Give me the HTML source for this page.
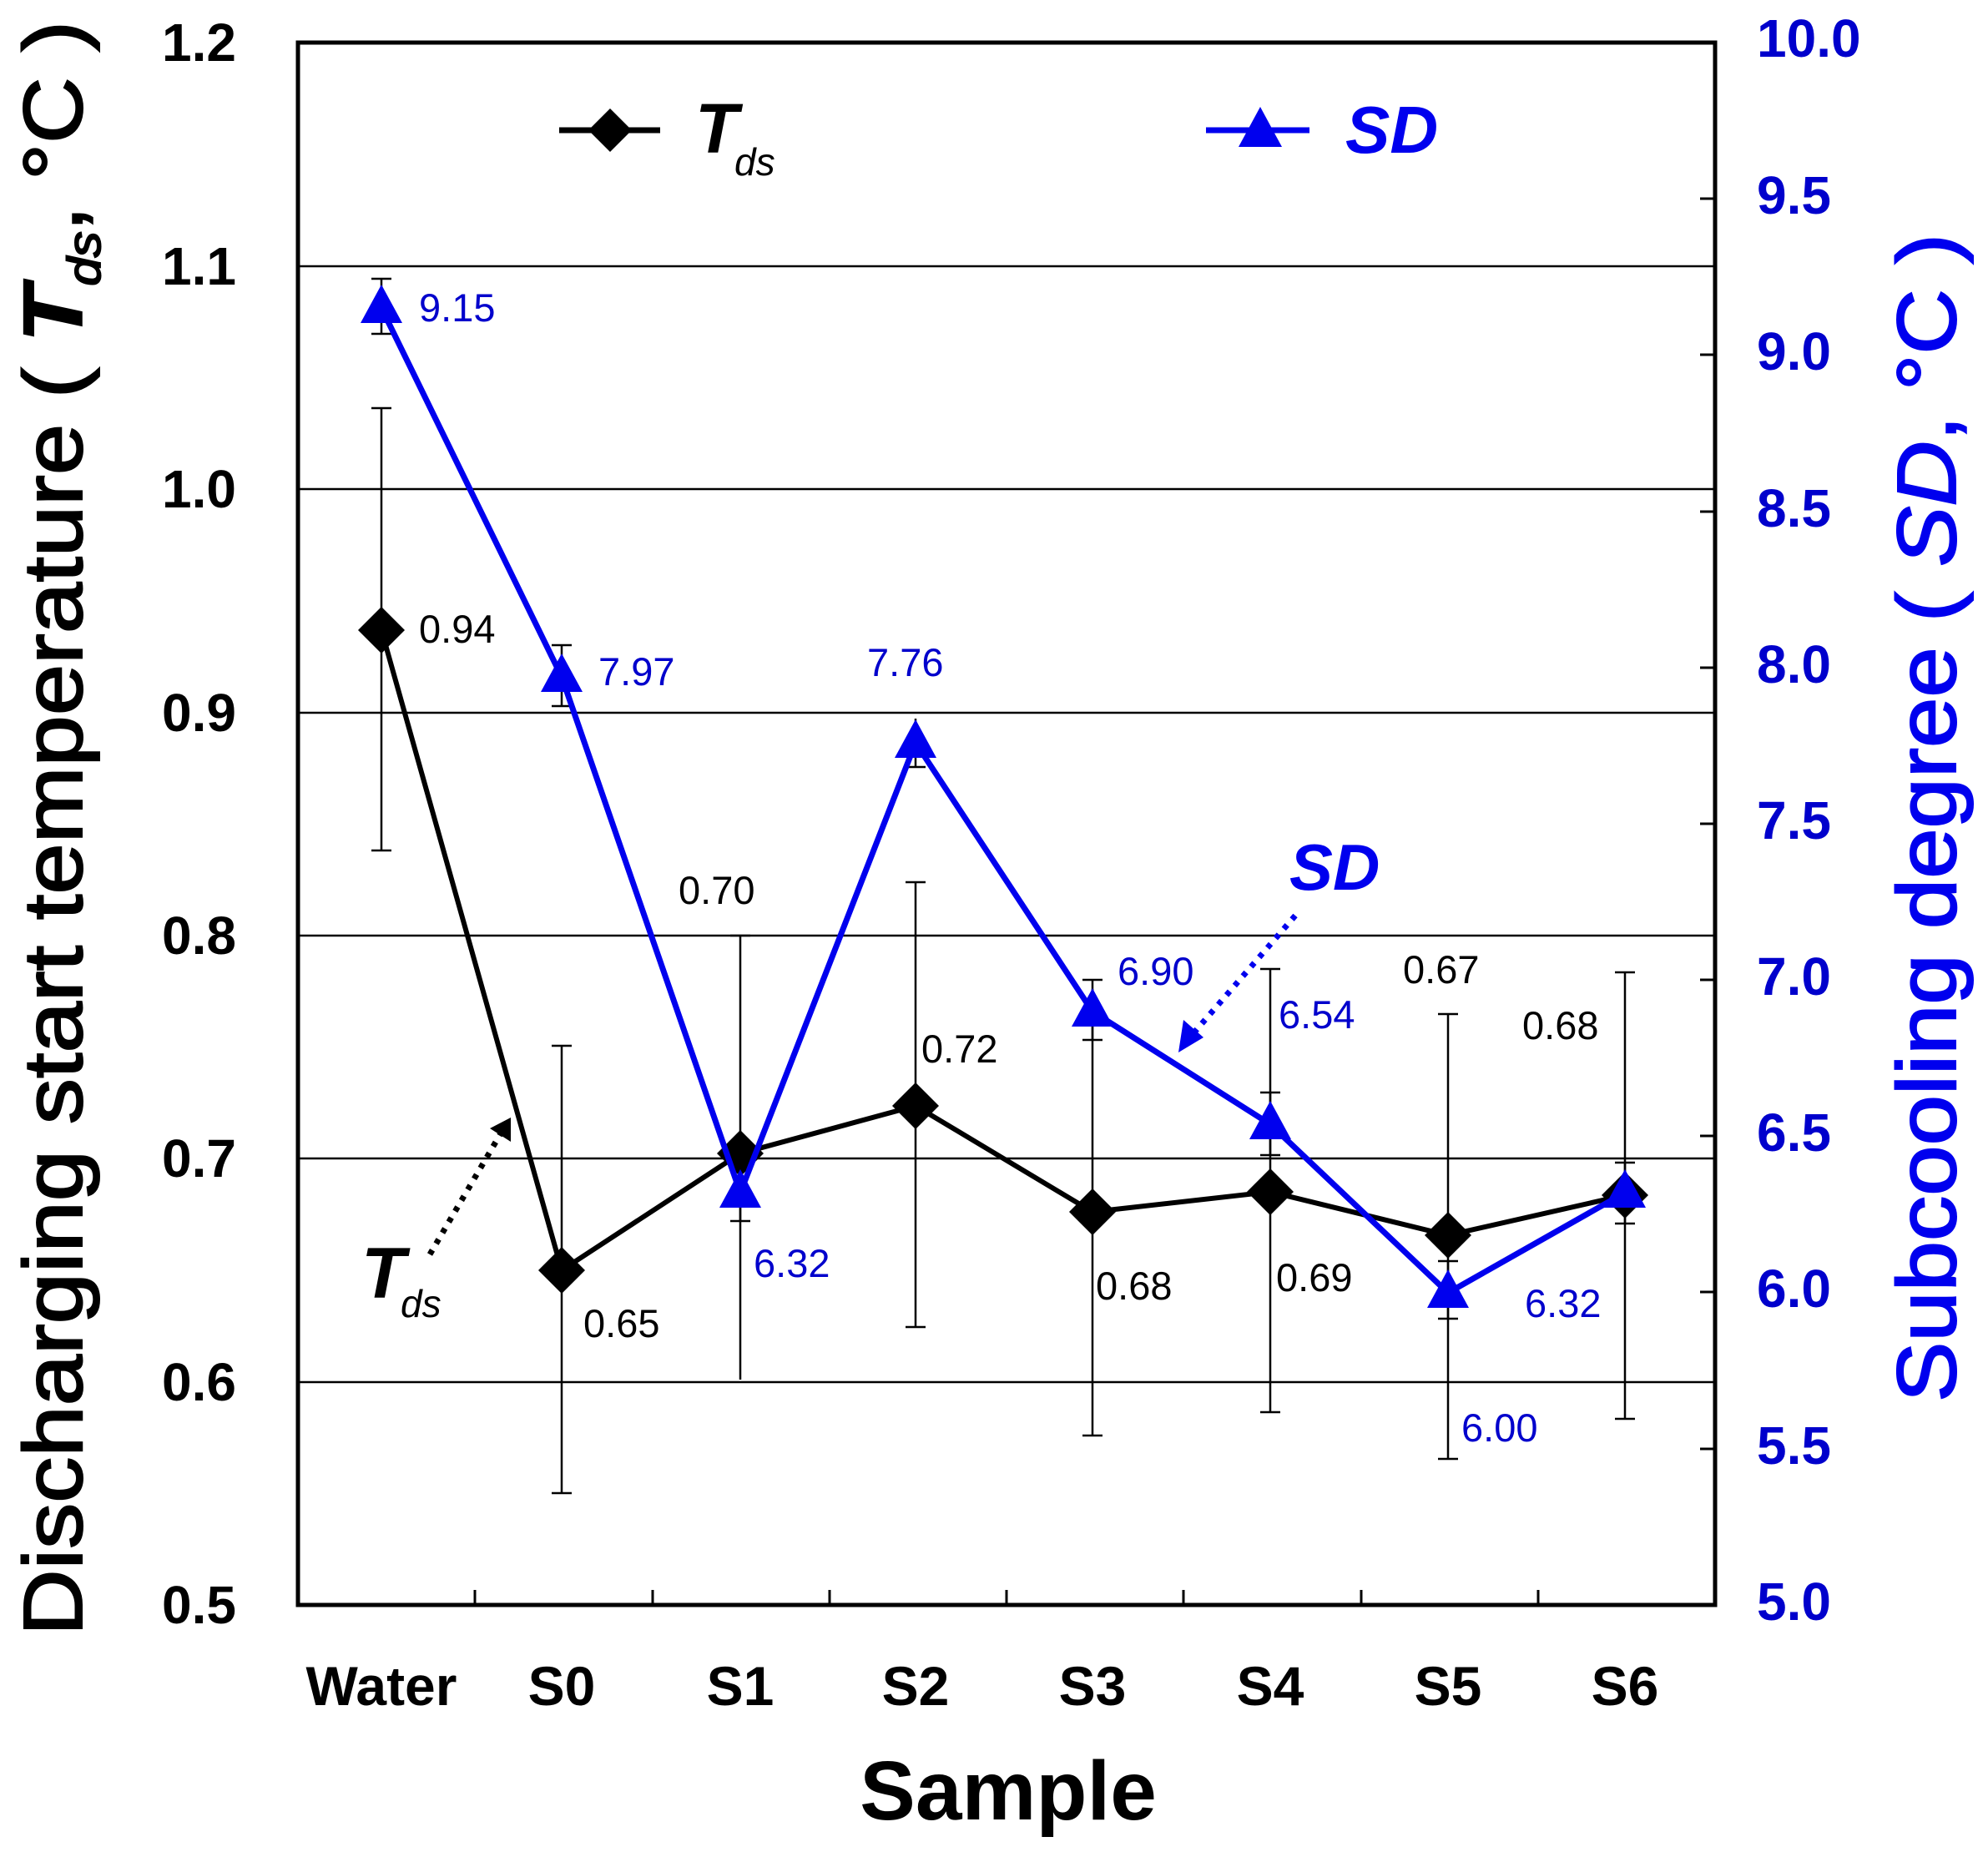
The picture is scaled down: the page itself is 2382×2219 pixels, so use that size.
<!DOCTYPE html>
<html><head><meta charset="utf-8"><style>html,body{margin:0;padding:0;background:#fff}svg{display:block}</style></head>
<body>
<svg width="2382" height="2219" viewBox="0 0 2382 2219" xmlns="http://www.w3.org/2000/svg" font-family="'Liberation Sans', Arial, sans-serif">
<rect width="2382" height="2219" fill="#fff"/>
<g stroke="#000" stroke-width="2.5">
<line x1="357" y1="319" x2="2055" y2="319"/>
<line x1="357" y1="586" x2="2055" y2="586"/>
<line x1="357" y1="854" x2="2055" y2="854"/>
<line x1="357" y1="1121" x2="2055" y2="1121"/>
<line x1="357" y1="1388" x2="2055" y2="1388"/>
<line x1="357" y1="1656" x2="2055" y2="1656"/>
</g>
<g stroke="#000" stroke-width="3">
<line x1="569" y1="1923" x2="569" y2="1905"/>
<line x1="782" y1="1923" x2="782" y2="1905"/>
<line x1="994" y1="1923" x2="994" y2="1905"/>
<line x1="1206" y1="1923" x2="1206" y2="1905"/>
<line x1="1418" y1="1923" x2="1418" y2="1905"/>
<line x1="1631" y1="1923" x2="1631" y2="1905"/>
<line x1="1843" y1="1923" x2="1843" y2="1905"/>
</g>
<g stroke="#000" stroke-width="3">
<line x1="2055" y1="238" x2="2037" y2="238"/>
<line x1="2055" y1="425" x2="2037" y2="425"/>
<line x1="2055" y1="613" x2="2037" y2="613"/>
<line x1="2055" y1="800" x2="2037" y2="800"/>
<line x1="2055" y1="987" x2="2037" y2="987"/>
<line x1="2055" y1="1174" x2="2037" y2="1174"/>
<line x1="2055" y1="1361" x2="2037" y2="1361"/>
<line x1="2055" y1="1548" x2="2037" y2="1548"/>
<line x1="2055" y1="1736" x2="2037" y2="1736"/>
</g>
<rect x="357" y="51" width="1698" height="1872" fill="none" stroke="#000" stroke-width="5"/>

<g stroke="#000" stroke-width="2.5">
<line x1="457" y1="489" x2="457" y2="1019"/><line x1="445" y1="489" x2="469" y2="489"/><line x1="445" y1="1019" x2="469" y2="1019"/>
<line x1="673" y1="1253" x2="673" y2="1789"/><line x1="661" y1="1253" x2="685" y2="1253"/><line x1="661" y1="1789" x2="685" y2="1789"/>
<line x1="887" y1="1121" x2="887" y2="1653"/><line x1="875" y1="1121" x2="899" y2="1121"/>
<line x1="1097" y1="1057" x2="1097" y2="1590"/><line x1="1085" y1="1057" x2="1109" y2="1057"/><line x1="1085" y1="1590" x2="1109" y2="1590"/>
<line x1="1309" y1="1185" x2="1309" y2="1720"/><line x1="1297" y1="1720" x2="1321" y2="1720"/>
<line x1="1522" y1="1161" x2="1522" y2="1692"/><line x1="1510" y1="1161" x2="1534" y2="1161"/><line x1="1510" y1="1692" x2="1534" y2="1692"/>
<line x1="1735" y1="1215" x2="1735" y2="1748"/><line x1="1723" y1="1215" x2="1747" y2="1215"/><line x1="1723" y1="1748" x2="1747" y2="1748"/>
<line x1="1947" y1="1165" x2="1947" y2="1700"/><line x1="1935" y1="1165" x2="1959" y2="1165"/><line x1="1935" y1="1700" x2="1959" y2="1700"/>
</g>
<g stroke="#000" stroke-width="2.5">
<line x1="457" y1="334" x2="457" y2="400"/><line x1="445" y1="334" x2="469" y2="334"/><line x1="445" y1="400" x2="469" y2="400"/>
<line x1="673" y1="773" x2="673" y2="846"/><line x1="661" y1="773" x2="685" y2="773"/><line x1="661" y1="846" x2="685" y2="846"/>
<line x1="887" y1="1410" x2="887" y2="1463"/><line x1="875" y1="1463" x2="899" y2="1463"/>
<line x1="1097" y1="861" x2="1097" y2="919"/><line x1="1085" y1="919" x2="1109" y2="919"/>
<line x1="1309" y1="1174" x2="1309" y2="1246"/><line x1="1297" y1="1174" x2="1321" y2="1174"/><line x1="1297" y1="1246" x2="1321" y2="1246"/>
<line x1="1522" y1="1309" x2="1522" y2="1384"/><line x1="1510" y1="1309" x2="1534" y2="1309"/><line x1="1510" y1="1384" x2="1534" y2="1384"/>
<line x1="1735" y1="1511" x2="1735" y2="1580"/><line x1="1723" y1="1511" x2="1747" y2="1511"/><line x1="1723" y1="1580" x2="1747" y2="1580"/>
<line x1="1947" y1="1393" x2="1947" y2="1466"/><line x1="1935" y1="1393" x2="1959" y2="1393"/><line x1="1935" y1="1466" x2="1959" y2="1466"/>
</g>

<polyline fill="none" stroke="#000" stroke-width="6" points="457,755 673,1522 887,1382 1097,1325 1309,1452 1522,1428 1735,1480 1947,1432"/>
<g fill="#000">
<polygon points="457,727 485,755 457,783 429,755"/>
<polygon points="673,1494 701,1522 673,1550 645,1522"/>
<polygon points="887,1354 915,1382 887,1410 859,1382"/>
<polygon points="1097,1297 1125,1325 1097,1353 1069,1325"/>
<polygon points="1309,1424 1337,1452 1309,1480 1281,1452"/>
<polygon points="1522,1400 1550,1428 1522,1456 1494,1428"/>
<polygon points="1735,1452 1763,1480 1735,1508 1707,1480"/>
<polygon points="1947,1404 1975,1432 1947,1460 1919,1432"/>
</g>
<polyline fill="none" stroke="#0000ee" stroke-width="7" points="457,369 673,811 887,1429 1097,890 1309,1212 1522,1347 1735,1549 1947,1429"/>
<g fill="#0000ee">
<polygon points="457,341 482,387 432,387"/>
<polygon points="673,783 698,829 648,829"/>
<polygon points="887,1401 912,1447 862,1447"/>
<polygon points="1097,862 1122,908 1072,908"/>
<polygon points="1309,1184 1334,1230 1284,1230"/>
<polygon points="1522,1319 1547,1365 1497,1365"/>
<polygon points="1735,1521 1760,1567 1710,1567"/>
<polygon points="1947,1401 1972,1447 1922,1447"/>
</g>

<g font-size="47" fill="#000">
<text x="502" y="770">0.94</text>
<text x="813" y="1083">0.70</text>
<text x="1104" y="1273">0.72</text>
<text x="699" y="1602">0.65</text>
<text x="1313" y="1557">0.68</text>
<text x="1529" y="1547">0.69</text>
<text x="1681" y="1178">0.67</text>
<text x="1824" y="1245">0.68</text>
</g>
<g font-size="47" fill="#0000cc">
<text x="502" y="385">9.15</text>
<text x="717" y="821">7.97</text>
<text x="1039" y="810">7.76</text>
<text x="903" y="1530">6.32</text>
<text x="1339" y="1180">6.90</text>
<text x="1532" y="1232">6.54</text>
<text x="1827" y="1578">6.32</text>
<text x="1751" y="1727">6.00</text>
</g>

<line x1="670" y1="156" x2="791" y2="156" stroke="#000" stroke-width="7"/>
<polygon points="731,130 757,156 731,182 705,156" fill="#000"/>
<text x="833" y="183" font-size="84" font-weight="bold" font-style="italic">T</text>
<text x="880" y="210" font-size="46" font-style="italic">ds</text>
<line x1="1445" y1="156" x2="1569" y2="156" stroke="#0000ee" stroke-width="7"/>
<polygon points="1510,128 1536,176 1484,176" fill="#0000ee"/>
<text x="1612" y="183" font-size="80" font-weight="bold" font-style="italic" fill="#0000ee">SD</text>

<text x="1545" y="1066" font-size="78" font-weight="bold" font-style="italic" fill="#0000ee">SD</text>
<line x1="1552" y1="1097" x2="1430" y2="1238" stroke="#0000ee" stroke-width="7" stroke-dasharray="6,9"/>
<polygon points="1412,1261 1418,1222 1442,1243" fill="#0000ee"/>
<text x="433" y="1555" font-size="86" font-weight="bold" font-style="italic">T</text>
<text x="480" y="1578" font-size="46" font-style="italic">ds</text>
<line x1="515" y1="1503" x2="600" y2="1358" stroke="#000" stroke-width="7" stroke-dasharray="6,9"/>
<polygon points="612,1339 612,1368 587,1352" fill="#000"/>

<g font-size="64" font-weight="bold" text-anchor="end" fill="#000">
<text x="283" y="73">1.2</text>
<text x="283" y="341">1.1</text>
<text x="283" y="608">1.0</text>
<text x="283" y="876">0.9</text>
<text x="283" y="1143">0.8</text>
<text x="283" y="1410">0.7</text>
<text x="283" y="1678">0.6</text>
<text x="283" y="1945">0.5</text>
</g>
<g font-size="64" font-weight="bold" fill="#0000cc">
<text x="2105" y="68">10.0</text>
<text x="2105" y="256">9.5</text>
<text x="2105" y="443">9.0</text>
<text x="2105" y="631">8.5</text>
<text x="2105" y="818">8.0</text>
<text x="2105" y="1005">7.5</text>
<text x="2105" y="1192">7.0</text>
<text x="2105" y="1379">6.5</text>
<text x="2105" y="1566">6.0</text>
<text x="2105" y="1754">5.5</text>
<text x="2105" y="1941">5.0</text>
</g>
<g font-size="66" font-weight="bold" text-anchor="middle" fill="#000">
<text x="457" y="2043">Water</text>
<text x="673" y="2043">S0</text>
<text x="887" y="2043">S1</text>
<text x="1097" y="2043">S2</text>
<text x="1309" y="2043">S3</text>
<text x="1522" y="2043">S4</text>
<text x="1735" y="2043">S5</text>
<text x="1947" y="2043">S6</text>
</g>
<text x="1208" y="2180" font-size="100" font-weight="bold" text-anchor="middle">Sample</text>

<text transform="translate(98,1960) rotate(-90)" font-size="100" textLength="1935" lengthAdjust="spacingAndGlyphs" fill="#000" stroke="#000" stroke-width="2">Discharging start temperature ( <tspan font-style="italic" font-weight="bold">T</tspan><tspan font-style="italic" font-size="56" dy="22">ds</tspan><tspan dy="-22">, °C )</tspan></text>
<text transform="translate(2343,1680) rotate(-90)" font-size="100" textLength="1400" lengthAdjust="spacingAndGlyphs" fill="#0000ee" stroke="#0000ee" stroke-width="2">Subcooling degree ( <tspan font-style="italic">SD</tspan>, °C )</text>
</svg>
</body></html>
